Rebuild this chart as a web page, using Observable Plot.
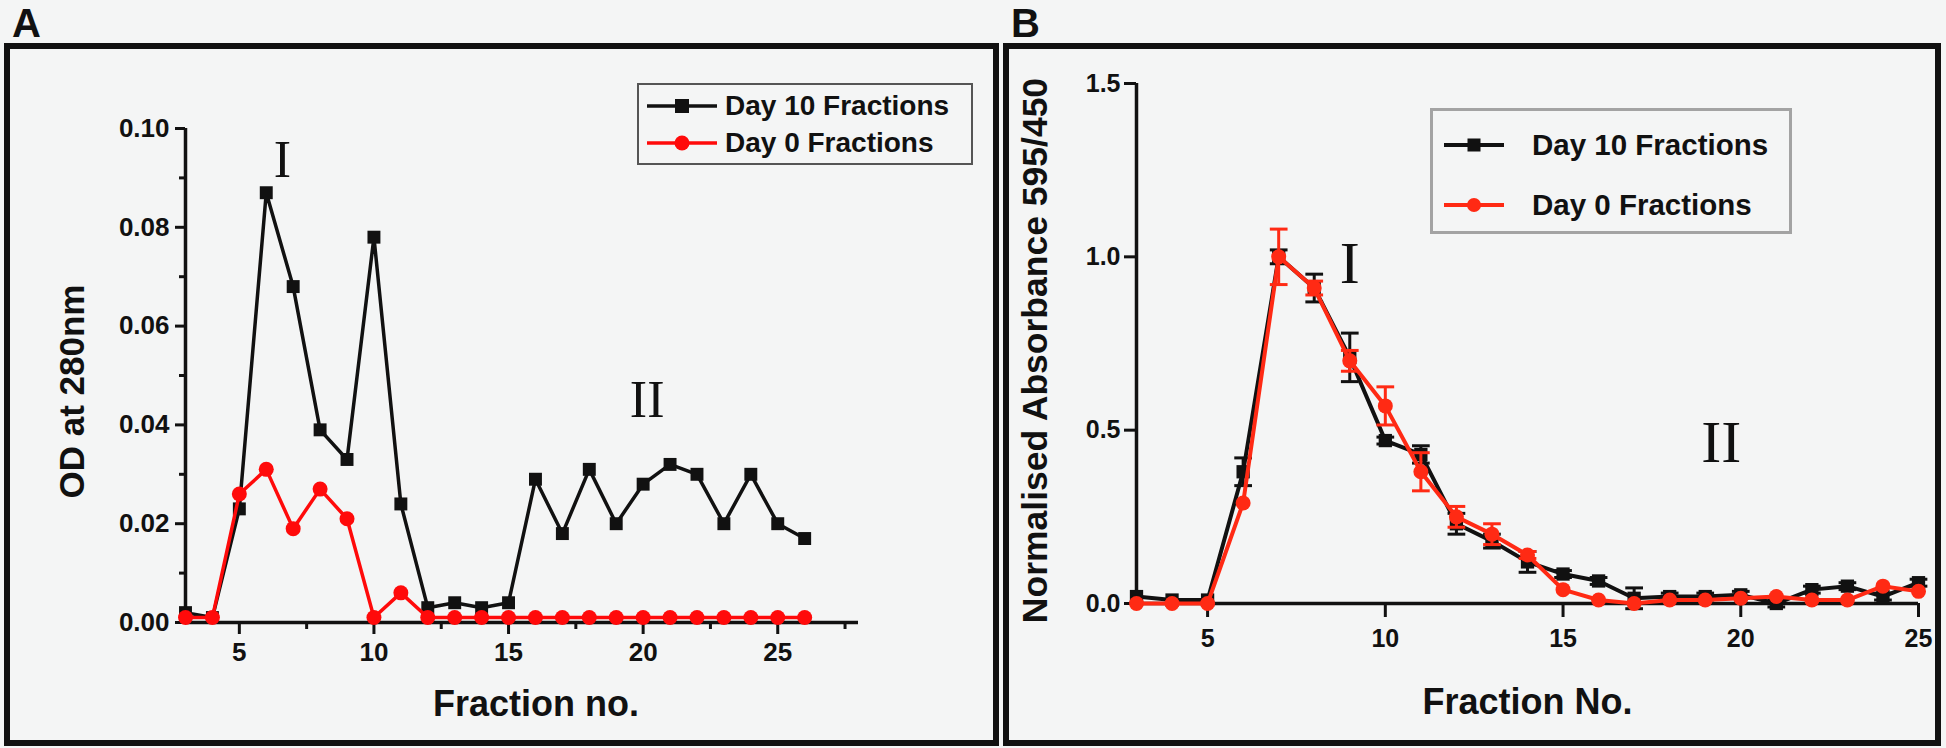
<!DOCTYPE html>
<html><head><meta charset="utf-8">
<script src="https://cdn.jsdelivr.net/npm/d3@7"></script>
<script src="https://cdn.jsdelivr.net/npm/@observablehq/plot@0.6"></script>
<style>
html,body{margin:0;padding:0;background:#f4f5f5;}
#page{position:relative;width:1946px;height:748px;overflow:hidden;background:#f4f5f5;font-family:"Liberation Sans",Arial,sans-serif;color:#111;}
.frame{position:absolute;border:6px solid #111;box-sizing:border-box;}
.letter{position:absolute;font-weight:bold;font-size:40px;line-height:1.15;}
.plotwrap{position:absolute;top:0;}
.legend{position:absolute;box-sizing:border-box;}
.legrow{position:absolute;left:0;display:flex;align-items:center;font-weight:bold;white-space:nowrap;}
.legrow svg{display:block;}
</style></head>
<body><div id="page"></div>
<script>
// ---------- Panel A data ----------
const fractionsA = [3,4,5,6,7,8,9,10,11,12,13,14,15,16,17,18,19,20,21,22,23,24,25,26];
const day10A = [0.002,0.001,0.023,0.087,0.068,0.039,0.033,0.078,0.024,0.003,0.004,0.003,0.004,0.029,0.018,0.031,0.020,0.028,0.032,0.030,0.020,0.030,0.020,0.017];
const day0A  = [0.001,0.001,0.026,0.031,0.019,0.027,0.021,0.001,0.006,0.001,0.001,0.001,0.001,0.001,0.001,0.001,0.001,0.001,0.001,0.001,0.001,0.001,0.001,0.001];
const xTicksA = [5,10,15,20,25];
const xMinorA = [7.5,12.5,17.5,22.5,27.5];
const yTicksA = [0,0.02,0.04,0.06,0.08,0.10];
const yMinorA = [0.01,0.03,0.05,0.07,0.09];
const peakLabelsA = ["I","II"];
const peakXA = [6.6,20.15];
const peakYA = [0.0935,0.045];

// ---------- Panel B data ----------
const fractionsB = [3,4,5,6,7,8,9,10,11,12,13,14,15,16,17,18,19,20,21,22,23,24,25];
const day10B    = [0.02,0.01,0.01,0.38,1.00,0.91,0.71,0.47,0.43,0.23,0.18,0.12,0.085,0.065,0.015,0.02,0.02,0.025,0.0,0.04,0.05,0.02,0.06];
const day10Berr = [0,0,0,0.04,0.02,0.04,0.07,0.01,0.025,0.03,0.02,0.03,0.01,0.01,0.03,0.01,0.01,0.01,0.01,0.01,0.01,0.01,0.01];
const day0B     = [0.0,0.0,0.0,0.29,1.00,0.91,0.70,0.57,0.38,0.25,0.20,0.14,0.04,0.01,0.0,0.01,0.01,0.015,0.02,0.01,0.01,0.05,0.035];
const day0Berr  = [0,0,0,0,0.08,0.02,0.03,0.055,0.055,0.03,0.03,0.01,0,0,0,0,0,0,0,0,0,0,0];
const xTicksB = [5,10,15,20,25];
const yTicksB = [0,0.5,1.0,1.5];
const peakLabelsB = ["I","II"];
const peakXB = [9.0,19.45];
const peakYB = [0.98,0.465];

const seriesNames = ["Day 10 Fractions","Day 0 Fractions"];
const seriesSymbols = ["square","circle"];
const seriesColors = ["#111111","#ff0a0a"];
const seriesColorsB = ["#111111","#ff2a14"];

// ---------- helpers ----------
const rowsA = (vals) => fractionsA.map((f,i)=>({x:f,y:vals[i]}));
const rowsB = (vals, errs) => fractionsB.map((f,i)=>({x:f,y:vals[i],e:errs[i]}));
const capSymbol = {draw(ctx,size){const w=Math.sqrt(size);ctx.moveTo(-w,0);ctx.lineTo(w,0);}};
const page = document.getElementById("page");
const sans = "Liberation Sans, Arial, sans-serif";

function addDiv(cls, css, html){const d=document.createElement("div");d.className=cls;Object.assign(d.style,css);if(html!=null)d.innerHTML=html;page.appendChild(d);return d;}

// frames and panel letters
addDiv("frame",{left:"4px",top:"43px",width:"995px",height:"703px"});
addDiv("frame",{left:"1003px",top:"43px",width:"938px",height:"703px"});
addDiv("letter",{left:"12px",top:"0px"},"A");
addDiv("letter",{left:"1011px",top:"0px"},"B");

// ---------- Panel A plot ----------
const d10A = rowsA(day10A), d0A = rowsA(day0A);
const plotA = Plot.plot({
  width:1000, height:748,
  marginLeft:185, marginRight:142, marginTop:128, marginBottom:126,
  style:{background:"transparent",fontFamily:sans,fontWeight:"bold",fontSize:"26px",color:"#111",overflow:"visible"},
  x:{domain:[3,28]},
  y:{domain:[0,0.1]},
  marks:[
    Plot.ruleX([3],{y1:0,y2:0.1,stroke:"#111",strokeWidth:3.5}),
    Plot.ruleY([0],{x1:3,x2:28,stroke:"#111",strokeWidth:3.5}),
    Plot.axisX(xTicksA,{tickSize:12,tickPadding:8,strokeWidth:3,tickFormat:d=>String(d),label:null}),
    Plot.axisX(xMinorA,{tickSize:7,strokeWidth:3,tickFormat:()=>"",label:null}),
    Plot.axisY(yTicksA,{tickSize:10,tickPadding:6,strokeWidth:3,tickFormat:d3.format(".2f"),label:null}),
    Plot.axisY(yMinorA,{tickSize:6,strokeWidth:3,tickFormat:()=>"",label:null}),
    Plot.line(d10A,{x:"x",y:"y",stroke:seriesColors[0],strokeWidth:3.5}),
    Plot.dot(d10A,{x:"x",y:"y",symbol:seriesSymbols[0],r:7.3,fill:seriesColors[0],stroke:"none"}),
    Plot.line(d0A,{x:"x",y:"y",stroke:seriesColors[1],strokeWidth:3.5}),
    Plot.dot(d0A,{x:"x",y:"y",symbol:seriesSymbols[1],r:7.5,fill:seriesColors[1],stroke:"none"}),
    Plot.text(peakLabelsA,{x:(d,i)=>peakXA[i],y:(d,i)=>peakYA[i],text:d=>d,fontFamily:"Liberation Serif, Times New Roman, serif",fontWeight:"normal",fontSize:52,fill:"#111"}),
    Plot.text(["Fraction no."],{frameAnchor:"bottom",textAnchor:"middle",dx:14,dy:93,fontSize:36,fontWeight:"bold",fill:"#111"}),
    Plot.text(["OD at 280nm"],{frameAnchor:"left",textAnchor:"middle",rotate:-90,dx:-113,dy:16,fontSize:35,fontWeight:"bold",fill:"#111"})
  ]
});
const wrapA = addDiv("plotwrap",{left:"0px",width:"1000px",height:"748px"});
wrapA.appendChild(plotA);

// ---------- Panel B plot ----------
const d10B = rowsB(day10B,day10Berr), d0B = rowsB(day0B,day0Berr);
const e10B = d10B.filter(d=>d.e>0), e0B = d0B.filter(d=>d.e>0);
const plotB = Plot.plot({
  width:946, height:748,
  marginLeft:136, marginRight:28, marginTop:83, marginBottom:145,
  style:{background:"transparent",fontFamily:sans,fontWeight:"bold",fontSize:"25px",color:"#111",overflow:"visible"},
  x:{domain:[3,25]},
  y:{domain:[0,1.5]},
  marks:[
    Plot.ruleX([3],{y1:0,y2:1.5,stroke:"#111",strokeWidth:3.5}),
    Plot.ruleY([0],{x1:3,x2:25,stroke:"#111",strokeWidth:3.5}),
    Plot.axisX(xTicksB,{tickSize:14,tickPadding:12,strokeWidth:3,tickFormat:d=>String(d),label:null}),
    Plot.axisY(yTicksB,{tickSize:12,tickPadding:4,strokeWidth:3,tickFormat:d3.format(".1f"),label:null}),
    Plot.ruleX(e10B,{x:"x",y1:d=>d.y-d.e,y2:d=>d.y+d.e,stroke:seriesColorsB[0],strokeWidth:3}),
    Plot.dot(e10B,{x:"x",y:d=>d.y+d.e,symbol:capSymbol,r:5,fill:"none",stroke:seriesColorsB[0],strokeWidth:3}),
    Plot.dot(e10B,{x:"x",y:d=>d.y-d.e,symbol:capSymbol,r:5,fill:"none",stroke:seriesColorsB[0],strokeWidth:3}),
    Plot.line(d10B,{x:"x",y:"y",stroke:seriesColorsB[0],strokeWidth:4}),
    Plot.dot(d10B,{x:"x",y:"y",symbol:seriesSymbols[0],r:7.5,fill:seriesColorsB[0],stroke:"none"}),
    Plot.ruleX(e0B,{x:"x",y1:d=>d.y-d.e,y2:d=>d.y+d.e,stroke:seriesColorsB[1],strokeWidth:3}),
    Plot.dot(e0B,{x:"x",y:d=>d.y+d.e,symbol:capSymbol,r:5,fill:"none",stroke:seriesColorsB[1],strokeWidth:3}),
    Plot.dot(e0B,{x:"x",y:d=>d.y-d.e,symbol:capSymbol,r:5,fill:"none",stroke:seriesColorsB[1],strokeWidth:3}),
    Plot.line(d0B,{x:"x",y:"y",stroke:seriesColorsB[1],strokeWidth:4}),
    Plot.dot(d0B,{x:"x",y:"y",symbol:seriesSymbols[1],r:7.5,fill:seriesColorsB[1],stroke:"none"}),
    Plot.text(peakLabelsB,{x:(d,i)=>peakXB[i],y:(d,i)=>peakYB[i],text:d=>d,fontFamily:"Liberation Serif, Times New Roman, serif",fontWeight:"normal",fontSize:60,fill:"#111"}),
    Plot.text(["Fraction No."],{frameAnchor:"bottom",textAnchor:"middle",dy:110,fontSize:36,fontWeight:"bold",fill:"#111"}),
    Plot.text(["Normalised Absorbance 595/450"],{frameAnchor:"left",textAnchor:"middle",rotate:-90,dx:-101,dy:7,fontSize:35.5,fontWeight:"bold",fill:"#111"})
  ]
});
const wrapB = addDiv("plotwrap",{left:"1000px",width:"946px",height:"748px"});
wrapB.appendChild(plotB);

// ---------- legends ----------
function legend(box, opts, colors){
  const lg = addDiv("legend",box);
  seriesNames.forEach((name,i)=>{
    const row = document.createElement("div");
    row.className="legrow";
    Object.assign(row.style,{top:(opts.rowTop[i]-opts.rowH/2)+"px",height:opts.rowH+"px",left:opts.padLeft+"px",fontSize:opts.fontSize+"px"});
    const w = opts.lineW, h = opts.rowH, c = colors[i];
    const marker = seriesSymbols[i]==="square"
      ? `<rect x="${w/2-opts.mk/2}" y="${h/2-opts.mk/2}" width="${opts.mk}" height="${opts.mk}" fill="${c}"/>`
      : `<circle cx="${w/2}" cy="${h/2}" r="${opts.mk/2+0.5}" fill="${c}"/>`;
    row.innerHTML = `<svg width="${w}" height="${h}"><line x1="0" x2="${w}" y1="${h/2}" y2="${h/2}" stroke="${c}" stroke-width="${opts.lw}"/>${marker}</svg><span style="margin-left:${opts.gap}px">${name}</span>`;
    lg.appendChild(row);
  });
}
legend({left:"637px",top:"83px",width:"336px",height:"82px",border:"2px solid #555"},
  {rowTop:[21,58],rowH:34,padLeft:8,lineW:70,lw:3.5,mk:14,gap:8,fontSize:28}, seriesColors);
legend({left:"1430px",top:"108px",width:"362px",height:"126px",border:"3px solid #a3a3a3"},
  {rowTop:[34,94],rowH:40,padLeft:11,lineW:60,lw:4,mk:13,gap:28,fontSize:29.5}, seriesColorsB);
</script>
</body></html>
